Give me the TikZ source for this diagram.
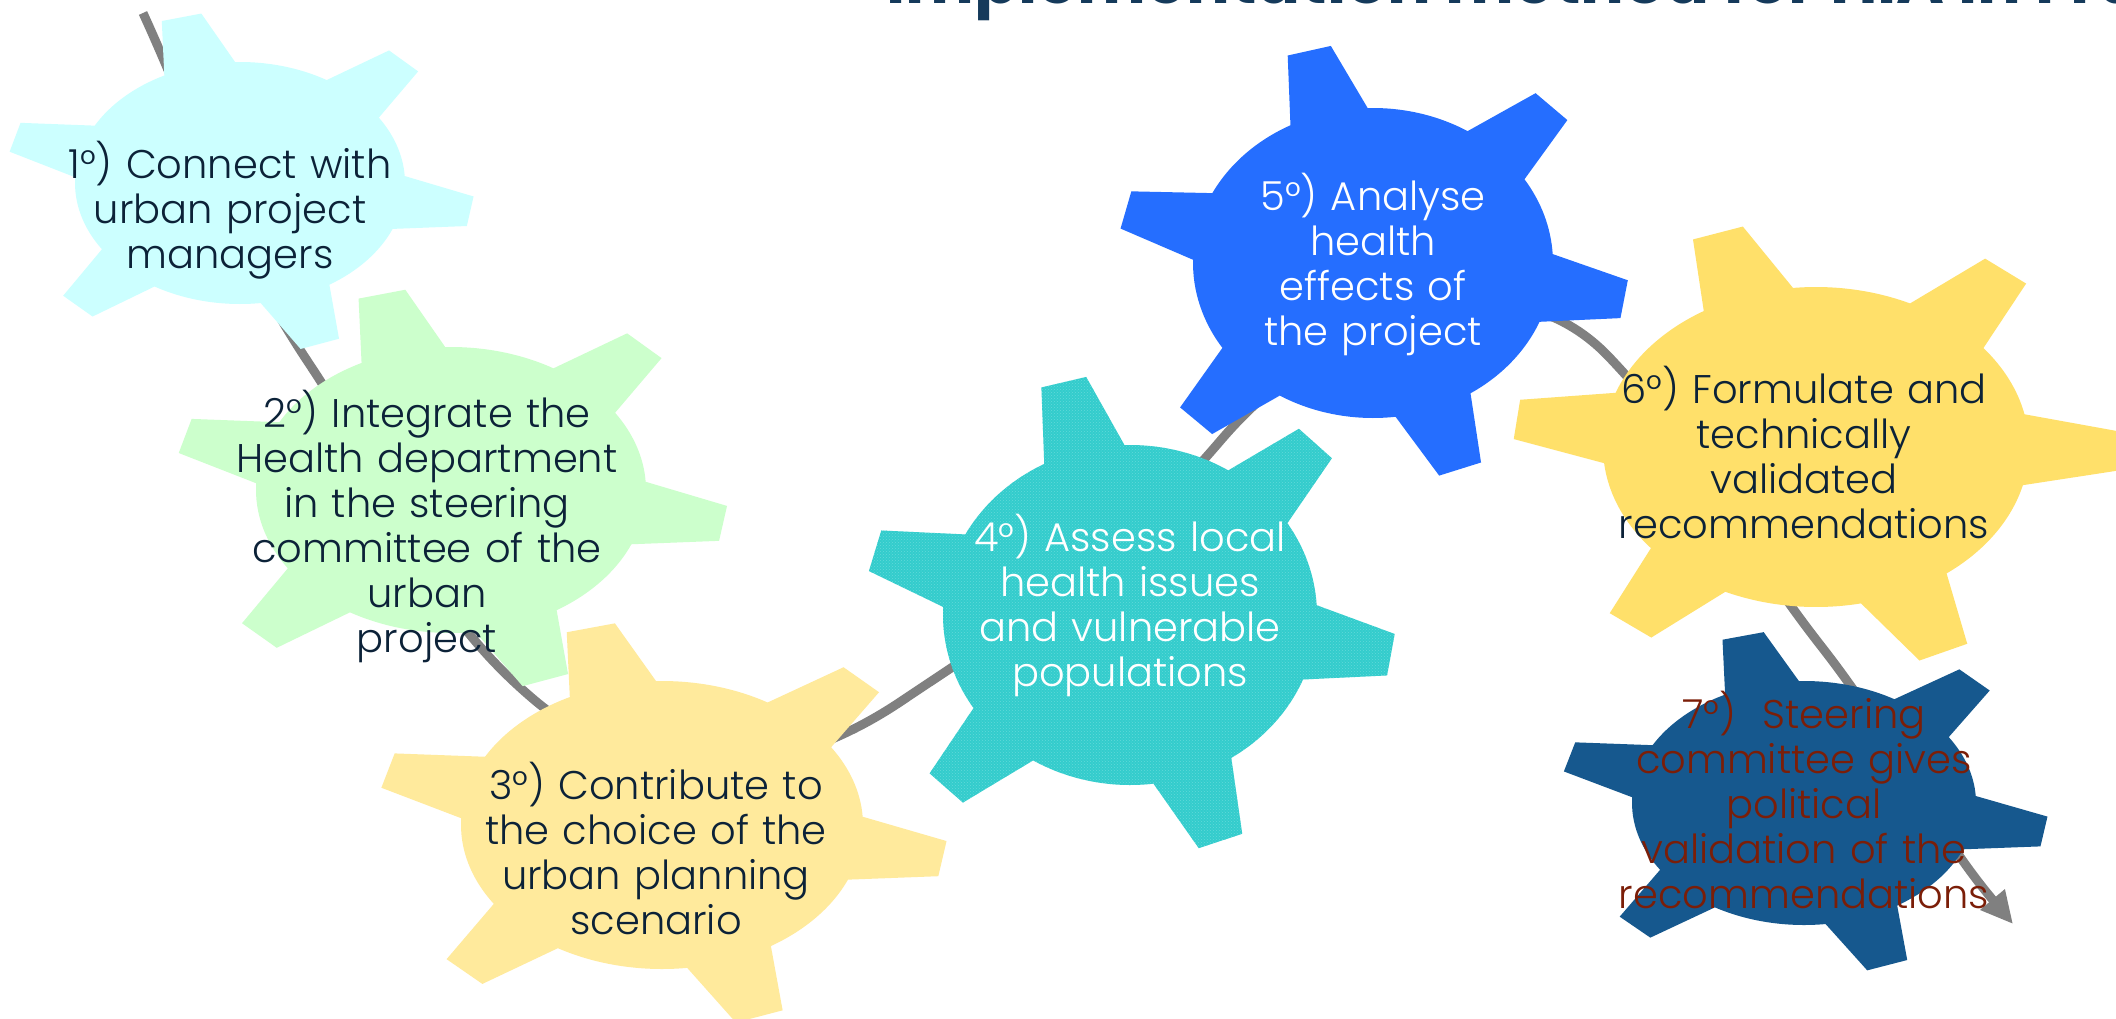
\documentclass[tikz,border=0pt]{standalone}
\usepackage{fontspec}
\setmainfont{Poppins}[UprightFont={* Light}, BoldFont={* Bold}]
\usetikzlibrary{arrows.meta,patterns}
\definecolor{gA}{HTML}{CCFFFF}
\definecolor{gB}{HTML}{CCFFCC}
\definecolor{gC}{HTML}{FFEA9C}
\definecolor{gD}{HTML}{33CCCC}
\definecolor{gDdot}{HTML}{62DADA}
\definecolor{gE}{HTML}{256EFF}
\definecolor{gF}{HTML}{FFE06A}
\definecolor{gG}{HTML}{16588E}
\definecolor{txtdark}{HTML}{0C2238}
\definecolor{txtred}{HTML}{7B1E08}
\definecolor{titlecol}{HTML}{153A5B}
\definecolor{conncol}{HTML}{808080}
% body arc from tooth #1 to tooth #2, then tooth #2
\newcommand{\gseg}[2]{arc[start angle=#1+12.8, end angle=#2-12.8, radius=1]
  -- (#2-5:1.42) -- (#2+5:1.42) -- (#2+12.8:1)}
% closed outline of a gear with six teeth at angles #1<...<#6 (unit circle frame)
\newcommand{\gearoutline}[6]{(#1-12.8:1) -- (#1-5:1.42) -- (#1+5:1.42) -- (#1+12.8:1)
  \gseg{#1}{#2} \gseg{#2}{#3} \gseg{#3}{#4} \gseg{#4}{#5} \gseg{#5}{#6}
  arc[start angle=#6+12.8, end angle=#1+347.2, radius=1] -- cycle}
\tikzset{
  gtext/.style={text width=520pt, align=center, anchor=base, inner sep=0pt,
    font=\fontsize{40}{45}\selectfont},
  conn/.style={draw=conncol, line width=9pt, -{Triangle[length=32pt,width=30pt]}},
  gearframe/.style n args={4}{shift={(#1,-#2)}, xscale=#3, yscale=#4}
}
\begin{document}
\begin{tikzpicture}[x=1pt,y=1pt]
\useasboundingbox (0,0) rectangle (2116,-1018);
\clip (0,0) rectangle (2116,-1018);
\fill[white] (0,0) rectangle (2116,-1018);
% title (clipped at top)
\node[anchor=base west, inner sep=0pt, text=titlecol,
  font=\fontsize{65}{72}\selectfont\bfseries] (title) at (886,-3)
  {Implementation method for HIA in France};
% connector waypoints
\coordinate (c0) at (143,-13);
\coordinate (c1) at (310,-365);
\coordinate (c2) at (532,-698);
\coordinate (c3) at (900,-702);
\coordinate (c4) at (1221,-440);
\coordinate (c5) at (1609,-357);
\coordinate (c6) at (1821,-646);
\coordinate (c7) at (2013,-924);
\draw[conn] (c0) to[out=-65.4,in=123.7] (c1) to[out=-56.3,in=139.4] (c2)
  to[out=-40.6,in=213.8] (c3) to[out=33.8,in=229.5] (c4)
  to[out=49.5,in=133.5] (c5) to[out=-46.5,in=128] (c6)
  to[out=-52,in=130] (c7);
% gears
\begin{scope}[gearframe={240}{183}{165}{121}]
  \fill[gA] \gearoutline{-134}{-70}{-9.5}{45.5}{104.5}{164.5};
\end{scope}
\begin{scope}[gearframe={451}{490}{195}{143}]
  \fill[gB] \gearoutline{-134}{-70}{-9.5}{45.5}{104.5}{164.5};
\end{scope}
\begin{scope}[gearframe={662}{825}{201}{144}]
  \fill[gC] \gearoutline{-134}{-70}{-9.5}{45.5}{104.5}{164.5};
\end{scope}
\begin{scope}[gearframe={1130}{615}{187}{170}]
  \fill[gD, postaction={pattern=crosshatch dots, pattern color=gDdot}]
    \gearoutline{-134}{-70}{-9.5}{45.5}{104.5}{164.5};
\end{scope}
\begin{scope}[gearframe={1373}{263}{180}{155}]
  \fill[gE] \gearoutline{-134}{-70}{-9.5}{45.5}{104.5}{166};
\end{scope}
\begin{scope}[gearframe={1816}{447}{213}{160}]
  \fill[gF] \gearoutline{-128}{-65}{-1}{51}{109}{173};
\end{scope}
\begin{scope}[gearframe={1804}{803}{172}{122}]
  \fill[gG] \gearoutline{-134}{-70}{-9.5}{45.5}{104.5}{164.5};
\end{scope}
% texts
\node[gtext, text=txtdark] (t1) at (230,-178)
  {1°) Connect with\\urban project\\managers};
\node[gtext, text=txtdark] (t2) at (427,-427)
  {2°) Integrate the\\Health department\\in the steering\\committee of the\\urban\\project};
\node[gtext, text=txtdark] (t3) at (656,-799)
  {3°) Contribute to\\the choice of the\\urban planning\\scenario};
\node[gtext, text=white] (t4) at (1130,-551)
  {4°) Assess local\\health issues\\and vulnerable\\populations};
\node[gtext, text=white] (t5) at (1373,-210)
  {5°) Analyse\\health\\effects of\\the project};
\node[gtext, text=txtdark] (t6) at (1804,-403)
  {6°) Formulate and\\technically\\validated\\recommendations};
\node[gtext, text=txtred] (t7) at (1804,-728)
  {7°)~~Steering\\committee gives\\political\\validation of the\\recommendations};
\end{tikzpicture}
\end{document}
